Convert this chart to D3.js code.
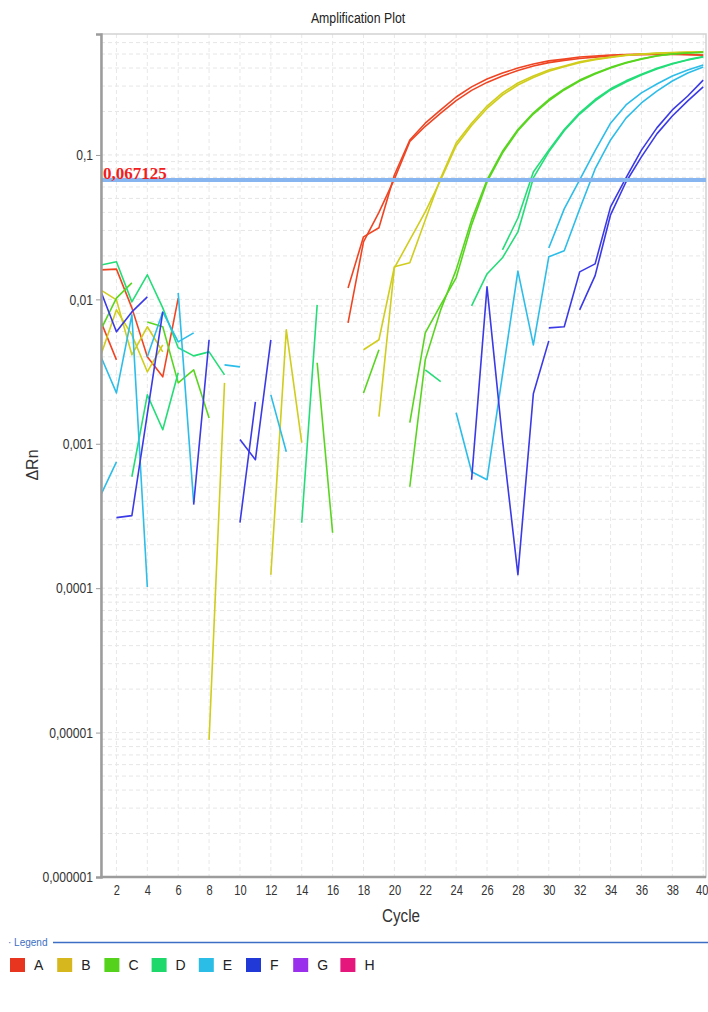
<!DOCTYPE html>
<html>
<head>
<meta charset="utf-8">
<script src="https://cdn.jsdelivr.net/npm/d3@7"></script>
<style>
  body { margin: 0; background: #fff; }
  svg { display: block; }
  text { font-family: "Liberation Sans", Arial, sans-serif; }
  text.serif { font-family: "Liberation Serif", "Times New Roman", serif; }
</style>
</head>
<body>
<svg id="chart" width="708" height="1012"></svg>
<script>
// ---- data -------------------------------------------------------------
const cycles = d3.range(1, 41);
const xTicks = d3.range(2, 41, 2);
const yTicks = [1e-6, 1e-5, 1e-4, 1e-3, 1e-2, 1e-1];
const yTickLabels = ["0,000001", "0,00001", "0,0001", "0,001", "0,01", "0,1"];
const threshold = 0.067125;
const thresholdLabel = "0,067125";

const legendWells = ["A", "B", "C", "D", "E", "F", "G", "H"];
const legendColors = ["#e8351f", "#d6b81e", "#55d21c", "#1fd86c", "#2bbde6", "#2139d6", "#9b30ec", "#e5177c"];
const traceColors = { A: "#ef4523", B: "#d0cd1d", C: "#59d520", D: "#24dd78", E: "#2cbde9", F: "#3b3ae6" };

// ΔRn per cycle (1..40) for each replicate well; null = value <= 0, not drawn on the log axis
const A1 = [0.0160, 0.0162, 0.00873, 0.0040, 0.00291, 0.0102, null, null, null, null,
            null, null, null, null, null, null, 0.0120, 0.0271, 0.0313, 0.0727,
            0.127, 0.166, 0.205, 0.252, 0.296, 0.336, 0.369, 0.400, 0.427, 0.448,
            0.461, 0.477, 0.484, 0.492, 0.496, 0.500, 0.500, 0.500, 0.496, 0.492];
const A2 = [0.00698, 0.00381, null, null, null, null, null, null, null, null,
            null, null, null, null, null, null, 0.00688, 0.0250, 0.0400, 0.0680,
            0.124, 0.158, 0.195, 0.238, 0.280, 0.318, 0.352, 0.385, 0.413, 0.436,
            0.452, 0.466, 0.476, 0.484, 0.490, 0.494, 0.496, 0.496, 0.494, 0.490];
const B1 = [0.0116, 0.00992, 0.00413, 0.00646, 0.00433, null, null, 0.0000089, 0.00264, null,
            null, 0.000124, 0.00615, 0.00102, null, null, null, 0.00448, 0.00525, 0.0168,
            0.0179, 0.0355, 0.0693, 0.121, 0.166, 0.218, 0.269, 0.315, 0.352, 0.387,
            0.413, 0.441, 0.461, 0.477, 0.492, 0.500, 0.508, 0.512, 0.516, 0.516];
const B2 = [0.00413, 0.00846, 0.00568, 0.00315, 0.00484, null, null, null, null, null,
            null, null, null, null, null, null, null, null, 0.00154, 0.0165,
            0.0258, 0.0403, 0.0671, 0.116, 0.160, 0.210, 0.260, 0.305, 0.344, 0.380,
            0.408, 0.435, 0.456, 0.473, 0.488, 0.498, 0.505, 0.510, 0.514, 0.516];
const C1 = [0.0062, 0.0102, 0.0130, null, null, null, null, null, null, null,
            null, null, null, null, 0.00364, 0.000242, null, 0.00225, 0.00448, null,
            0.0014, 0.00586, 0.00916, 0.0141, 0.0328, 0.0650, 0.103, 0.147, 0.192, 0.237,
            0.282, 0.325, 0.364, 0.400, 0.433, 0.461, 0.484, 0.500, 0.508, 0.516];
const C2 = [null, null, null, 0.00698, 0.00646, 0.00264, 0.00325, 0.00151, null, null,
            null, null, null, null, null, null, null, null, null, null,
            0.000504, 0.00381, 0.00846, 0.0160, 0.0355, 0.0671, 0.106, 0.150, 0.196, 0.242,
            0.287, 0.330, 0.368, 0.404, 0.436, 0.463, 0.486, 0.500, 0.508, 0.512];
const D1 = [0.0173, 0.0182, 0.00961, 0.0148, 0.00873, 0.00462, 0.00406, 0.00433, 0.00300, null,
            null, null, null, null, null, null, null, null, null, null,
            null, null, null, null, 0.00901, 0.0150, 0.0194, 0.0293, 0.0693, 0.105,
            0.147, 0.192, 0.237, 0.282, 0.320, 0.358, 0.394, 0.427, 0.454, 0.477];
const D2 = [null, null, 0.000591, 0.00218, 0.00125, 0.00310, null, null, null, null,
            null, null, null, 0.000284, 0.00916, null, null, null, null, null,
            null, 0.00325, 0.00269, null, null, null, 0.0220, 0.0366, 0.0762, 0.108,
            0.150, 0.196, 0.242, 0.287, 0.326, 0.362, 0.398, 0.430, 0.457, 0.480];
const E1 = [0.0040, 0.00225, 0.00781, 0.000102, null, 0.0111, 0.000391, null, null, null,
            null, 0.00218, 0.000881, null, null, null, null, null, null, null,
            null, null, null, 0.00164, 0.00064, 0.000564, 0.0030, 0.0157, 0.00484, 0.0197,
            0.0217, 0.0423, 0.080, 0.127, 0.180, 0.229, 0.277, 0.325, 0.369, 0.406];
const E2 = [0.000444, 0.00075, null, 0.0040, 0.00819, 0.00508, 0.00586, null, 0.00352, 0.00341,
            null, null, null, null, null, null, null, null, null, null,
            null, null, null, null, null, null, null, null, null, 0.0227,
            0.0423, 0.0671, 0.107, 0.166, 0.222, 0.269, 0.310, 0.352, 0.387, 0.420];
const F1 = [0.0113, 0.00596, 0.00819, 0.0104, null, null, 0.000379, 0.00525, null, 0.00107,
            0.000775, 0.00525, null, null, null, null, null, null, null, null,
            null, null, null, null, null, null, null, null, null, 0.00635,
            0.00646, 0.0155, 0.0176, 0.0437, 0.0693, 0.108, 0.154, 0.205, 0.256, 0.330];
const F2 = [null, 0.000308, 0.000318, 0.00161, 0.00819, null, null, null, null, 0.000284,
            0.00195, null, null, null, null, null, null, null, null, null,
            null, null, null, null, 0.000564, 0.0122, 0.00107, 0.000124, 0.00222, 0.00516,
            null, 0.00846, 0.0146, 0.0385, 0.0650, 0.0969, 0.140, 0.186, 0.237, 0.296];

const traces = [
  { well: "A", values: A1 }, { well: "A", values: A2 },
  { well: "B", values: B1 }, { well: "B", values: B2 },
  { well: "C", values: C1 }, { well: "C", values: C2 },
  { well: "D", values: D1 }, { well: "D", values: D2 },
  { well: "E", values: E1 }, { well: "E", values: E2 },
  { well: "F", values: F1 }, { well: "F", values: F2 }
];

// ---- layout -----------------------------------------------------------
const plot = { left: 101, right: 706, top: 34, bottom: 877 };
const svg = d3.select("#chart");

const x = d3.scaleLinear().domain([1, 40]).range([plot.left, 703.2]);
const y = d3.scaleLog().domain([1e-6, 0.688]).range([plot.bottom, plot.top]);

// condensed text: horizontally squeezed around its anchor point
function narrowText(parent, tx, ty, str, size, squeeze, anchor) {
  return parent.append("text")
    .attr("transform", `translate(${tx},${ty}) scale(${squeeze},1)`)
    .attr("text-anchor", anchor || "middle")
    .attr("font-size", size).attr("fill", "#222")
    .text(str);
}

// title
narrowText(svg, 358, 23, "Amplification Plot", 15, 0.82);

// grid
const grid = svg.append("g");
const minorVals = [];
for (let e = -6; e <= -1; e++) {
  for (let m = 1; m <= 9; m++) {
    const v = m * Math.pow(10, e);
    if (v <= 0.688) minorVals.push(v);
  }
}
grid.selectAll("line.h").data(minorVals).join("line")
  .attr("x1", plot.left).attr("x2", plot.right)
  .attr("y1", d => y(d)).attr("y2", d => y(d))
  .attr("stroke", "#e6e6e6").attr("stroke-width", 1).attr("stroke-dasharray", "4,3");
grid.selectAll("line.v").data(xTicks).join("line")
  .attr("x1", d => x(d)).attr("x2", d => x(d))
  .attr("y1", plot.top).attr("y2", plot.bottom)
  .attr("stroke", "#e8e8e8").attr("stroke-width", 1).attr("stroke-dasharray", "4,3");

// frame
svg.append("rect")
  .attr("x", plot.left).attr("y", plot.top)
  .attr("width", plot.right - plot.left).attr("height", plot.bottom - plot.top)
  .attr("fill", "none").attr("stroke", "#d2d2d2").attr("stroke-width", 1.5);

// clip for traces
svg.append("clipPath").attr("id", "plotClip").append("rect")
  .attr("x", plot.left).attr("y", plot.top)
  .attr("width", plot.right - plot.left).attr("height", plot.bottom - plot.top);

const line = d3.line()
  .defined(d => d != null && d > 0)
  .x((d, i) => x(cycles[i]))
  .y(d => y(d));

svg.append("g").attr("clip-path", "url(#plotClip)")
  .selectAll("path").data(traces).join("path")
  .attr("d", d => line(d.values))
  .attr("fill", "none")
  .attr("stroke", d => traceColors[d.well])
  .attr("stroke-width", 1.6)
  .attr("stroke-linejoin", "round");

// threshold
svg.append("line")
  .attr("x1", plot.left).attr("x2", plot.right)
  .attr("y1", y(threshold)).attr("y2", y(threshold))
  .attr("stroke", "#86b5ef").attr("stroke-width", 4);
svg.append("text").attr("class", "serif")
  .attr("x", 103).attr("y", y(threshold) - 1)
  .attr("font-weight", "bold").attr("font-size", 17).attr("fill", "#f21d1d")
  .text(thresholdLabel);

// axes
const yAxis = d3.axisLeft(y).tickValues(yTicks)
  .tickFormat((d, i) => yTickLabels[i]).tickSize(5).tickPadding(3);
const gy = svg.append("g").attr("transform", `translate(${plot.left},0)`).call(yAxis);
gy.select(".domain").attr("stroke", "#9c9c9c").attr("stroke-width", 2.5);
gy.selectAll(".tick line").attr("stroke", "#9c9c9c");
gy.selectAll(".tick text")
  .attr("font-size", 15).attr("fill", "#333")
  .attr("x", -8 / 0.81).attr("transform", "scale(0.81,1)");

const xAxis = d3.axisBottom(x).tickValues(xTicks).tickSize(0).tickPadding(7);
const gx = svg.append("g").attr("transform", `translate(0,${plot.bottom})`).call(xAxis);
gx.select(".domain").remove();
gx.selectAll(".tick text")
  .attr("font-size", 15).attr("fill", "#333")
  .attr("transform", "scale(0.74,1)")
  .attr("x", d => (d === 40 ? -1.5 / 0.74 : 0));
svg.append("line")
  .attr("x1", plot.left - 1).attr("x2", plot.right)
  .attr("y1", plot.bottom).attr("y2", plot.bottom)
  .attr("stroke", "#9c9c9c").attr("stroke-width", 2.5);

// axis titles
narrowText(svg, 401, 922, "Cycle", 19, 0.8).attr("fill", "#333");
svg.append("text")
  .attr("transform", "translate(38,465) rotate(-90)").attr("text-anchor", "middle")
  .attr("font-size", 16).attr("fill", "#333").text("ΔRn");

// legend
const lg = svg.append("g");
lg.append("text").attr("x", 8).attr("y", 946)
  .attr("font-size", 10).attr("fill", "#3b6ec4").text("· Legend");
lg.append("line").attr("x1", 53).attr("x2", 708).attr("y1", 942.5).attr("y2", 942.5)
  .attr("stroke", "#3b6ec4").attr("stroke-width", 1.5);
const items = lg.selectAll("g.item").data(legendWells).join("g")
  .attr("transform", (d, i) => `translate(${10 + i * 47.2},958)`);
items.append("rect").attr("width", 15).attr("height", 14)
  .attr("fill", (d, i) => legendColors[i]);
items.append("text").attr("x", 24).attr("y", 12)
  .attr("font-size", 14).attr("fill", "#222").text(d => d);
</script>
</body>
</html>
